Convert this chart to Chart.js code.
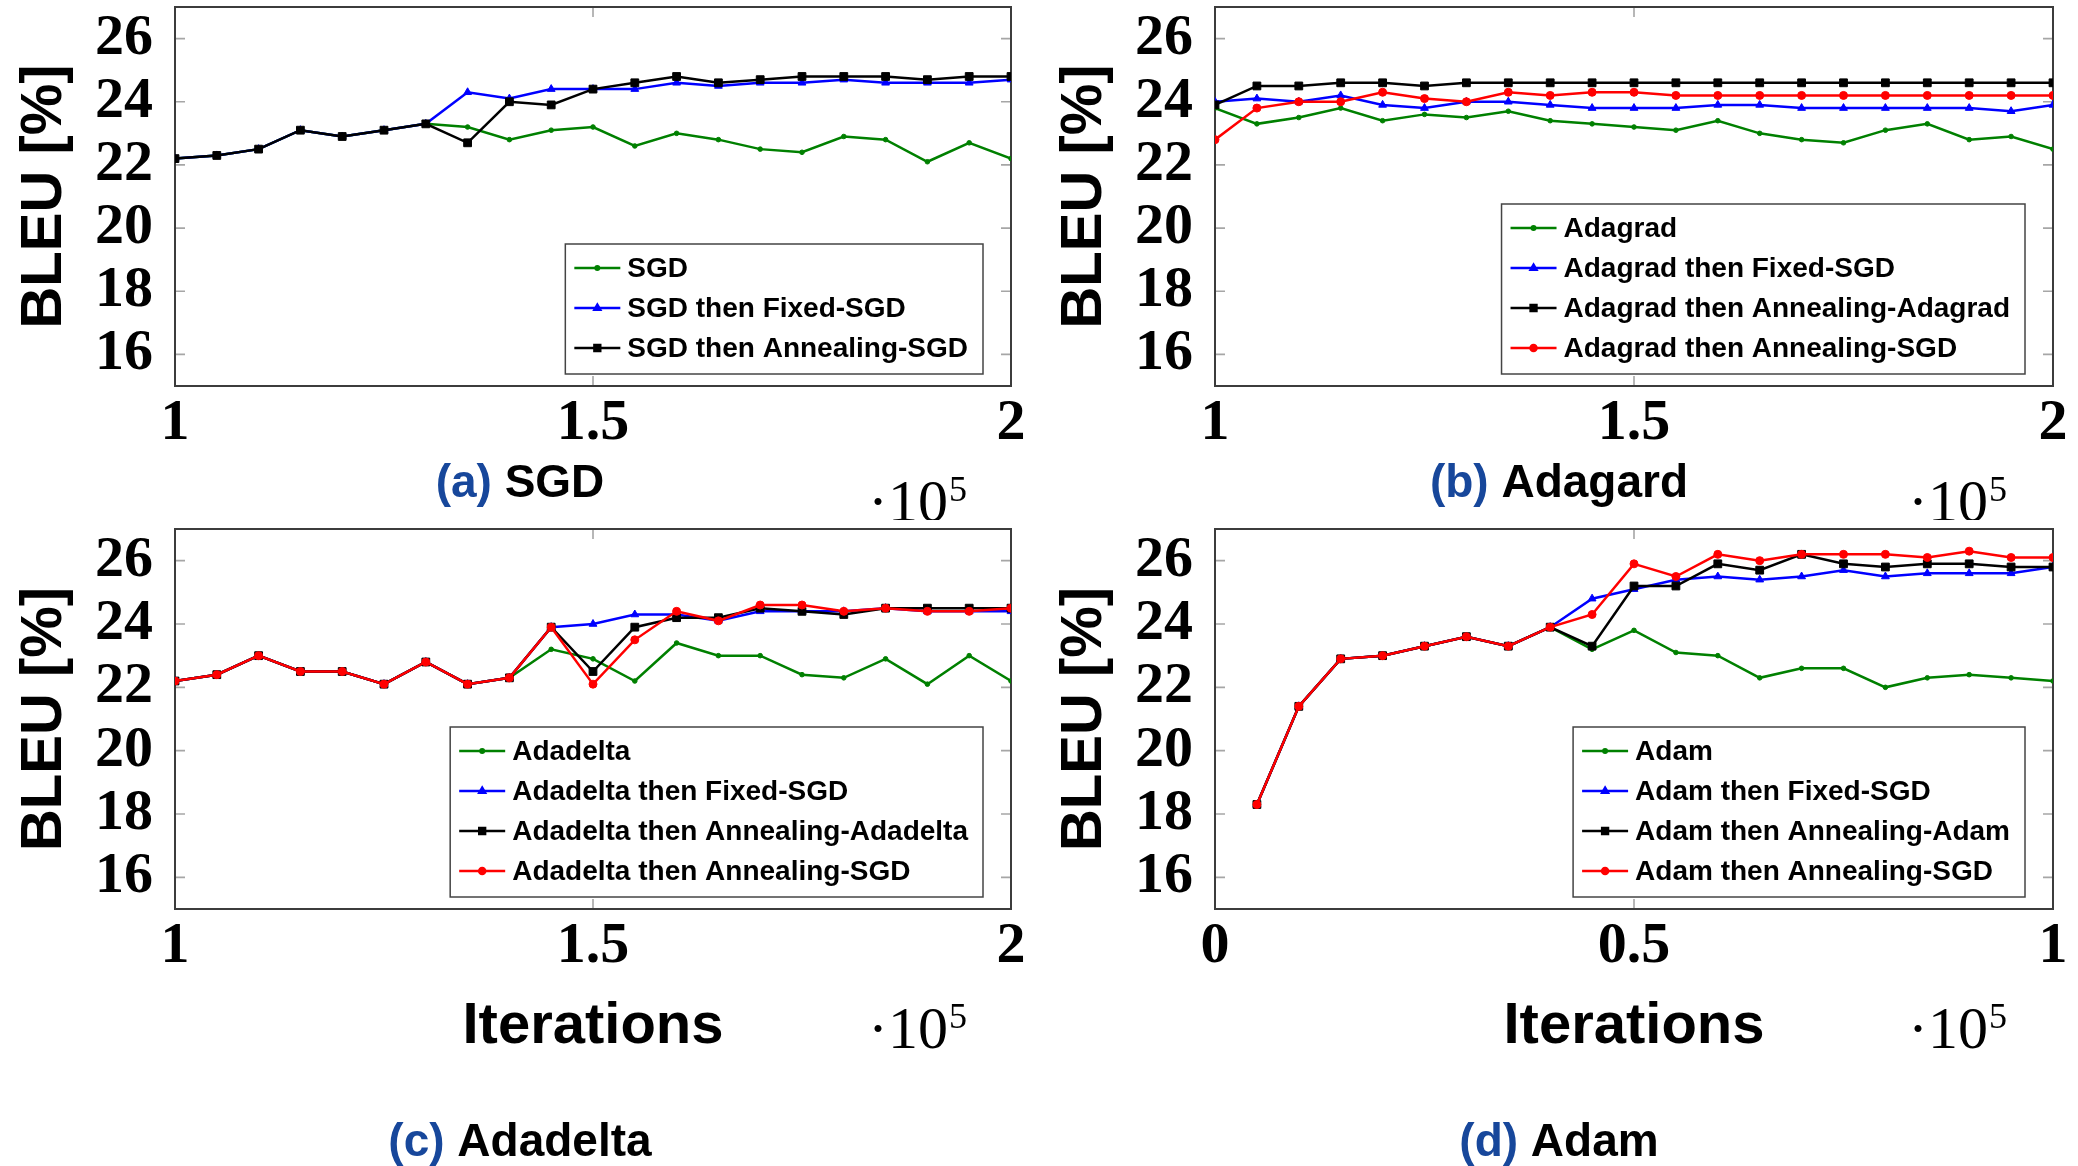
<!DOCTYPE html>
<html>
<head>
<meta charset="utf-8">
<script src="https://cdn.jsdelivr.net/npm/chart.js@4.4.0/dist/chart.umd.min.js"></script>
<style>
  body { margin: 0; background: #fff; width: 2078px; height: 1166px; overflow: hidden; position: relative; }
  canvas { position: absolute; }
</style>
</head>
<body>
<canvas id="chart-a" width="1040" height="520" style="left:0;top:0"></canvas>
<canvas id="chart-b" width="1038" height="520" style="left:1040px;top:0"></canvas>
<canvas id="chart-c" width="1040" height="646" style="left:0;top:520px"></canvas>
<canvas id="chart-d" width="1038" height="646" style="left:1040px;top:520px"></canvas>
<script>
// ---- data (BLEU %, iterations in units of 1e5) ----
const iters = [1.00, 1.05, 1.10, 1.15, 1.20, 1.25, 1.30, 1.35, 1.40, 1.45, 1.50,
               1.55, 1.60, 1.65, 1.70, 1.75, 1.80, 1.85, 1.90, 1.95, 2.00];
const adamIters = [0.05, 0.10, 0.15, 0.20, 0.25, 0.30, 0.35, 0.40, 0.45, 0.50,
                   0.55, 0.60, 0.65, 0.70, 0.75, 0.80, 0.85, 0.90, 0.95, 1.00];

const bleuTicks = [16, 18, 20, 22, 24, 26];
const iterTicks = [1, 1.5, 2];
const adamIterTicks = [0, 0.5, 1];

const sgd          = [22.2, 22.3, 22.5, 23.1, 22.9, 23.1, 23.3, 23.2, 22.8, 23.1, 23.2, 22.6, 23.0, 22.8, 22.5, 22.4, 22.9, 22.8, 22.1, 22.7, 22.2];
const sgdFixed     = [22.2, 22.3, 22.5, 23.1, 22.9, 23.1, 23.3, 24.3, 24.1, 24.4, 24.4, 24.4, 24.6, 24.5, 24.6, 24.6, 24.7, 24.6, 24.6, 24.6, 24.7];
const sgdAnneal    = [22.2, 22.3, 22.5, 23.1, 22.9, 23.1, 23.3, 22.7, 24.0, 23.9, 24.4, 24.6, 24.8, 24.6, 24.7, 24.8, 24.8, 24.8, 24.7, 24.8, 24.8];

const adagrad          = [23.8, 23.3, 23.5, 23.8, 23.4, 23.6, 23.5, 23.7, 23.4, 23.3, 23.2, 23.1, 23.4, 23.0, 22.8, 22.7, 23.1, 23.3, 22.8, 22.9, 22.5];
const adagradFixed     = [24.0, 24.1, 24.0, 24.2, 23.9, 23.8, 24.0, 24.0, 23.9, 23.8, 23.8, 23.8, 23.9, 23.9, 23.8, 23.8, 23.8, 23.8, 23.8, 23.7, 23.9];
const adagradAnnealAda = [23.9, 24.5, 24.5, 24.6, 24.6, 24.5, 24.6, 24.6, 24.6, 24.6, 24.6, 24.6, 24.6, 24.6, 24.6, 24.6, 24.6, 24.6, 24.6, 24.6, 24.6];
const adagradAnnealSgd = [22.8, 23.8, 24.0, 24.0, 24.3, 24.1, 24.0, 24.3, 24.2, 24.3, 24.3, 24.2, 24.2, 24.2, 24.2, 24.2, 24.2, 24.2, 24.2, 24.2, 24.2];

const adadelta          = [22.2, 22.4, 23.0, 22.5, 22.5, 22.1, 22.8, 22.1, 22.3, 23.2, 22.9, 22.2, 23.4, 23.0, 23.0, 22.4, 22.3, 22.9, 22.1, 23.0, 22.2];
const adadeltaFixed     = [22.2, 22.4, 23.0, 22.5, 22.5, 22.1, 22.8, 22.1, 22.3, 23.9, 24.0, 24.3, 24.3, 24.1, 24.4, 24.4, 24.4, 24.5, 24.4, 24.4, 24.4];
const adadeltaAnnealAda = [22.2, 22.4, 23.0, 22.5, 22.5, 22.1, 22.8, 22.1, 22.3, 23.9, 22.5, 23.9, 24.2, 24.2, 24.5, 24.4, 24.3, 24.5, 24.5, 24.5, 24.5];
const adadeltaAnnealSgd = [22.2, 22.4, 23.0, 22.5, 22.5, 22.1, 22.8, 22.1, 22.3, 23.9, 22.1, 23.5, 24.4, 24.1, 24.6, 24.6, 24.4, 24.5, 24.4, 24.4, 24.5];

const adam          = [18.3, 21.4, 22.9, 23.0, 23.3, 23.6, 23.3, 23.9, 23.2, 23.8, 23.1, 23.0, 22.3, 22.6, 22.6, 22.0, 22.3, 22.4, 22.3, 22.2];
const adamFixed     = [18.3, 21.4, 22.9, 23.0, 23.3, 23.6, 23.3, 23.9, 24.8, 25.1, 25.4, 25.5, 25.4, 25.5, 25.7, 25.5, 25.6, 25.6, 25.6, 25.8];
const adamAnnealAda = [18.3, 21.4, 22.9, 23.0, 23.3, 23.6, 23.3, 23.9, 23.3, 25.2, 25.2, 25.9, 25.7, 26.2, 25.9, 25.8, 25.9, 25.9, 25.8, 25.8];
const adamAnnealSgd = [18.3, 21.4, 22.9, 23.0, 23.3, 23.6, 23.3, 23.9, 24.3, 25.9, 25.5, 26.2, 26.0, 26.2, 26.2, 26.2, 26.1, 26.3, 26.1, 26.1];

// ---- styles ----
const SANS = '"Liberation Sans", Arial, sans-serif';
const SERIF = '"Liberation Serif", "Times New Roman", serif';
const lineStyles = [
    { color: '#008000', pointStyle: 'circle', radius: 2.3, order: 3 },
    { color: '#0000ff', pointStyle: 'triangle', radius: 4.5, order: 2 },
    { color: '#000000', pointStyle: 'rect', radius: 5.5, order: 1 },
    { color: '#ff0000', pointStyle: 'circle', radius: 4, order: 0 }
];

const decorPlugin = {
    id: 'decor',
    beforeDatasetsDraw(chart) {
        const { ctx, chartArea: a, scales: { x, y } } = chart;
        ctx.save();
        ctx.strokeStyle = '#a6a6a6';
        ctx.lineWidth = 1.6;
        ctx.beginPath();
        y.ticks.forEach(t => {
            const py = y.getPixelForValue(t.value);
            ctx.moveTo(a.left, py); ctx.lineTo(a.left + 10, py);
            ctx.moveTo(a.right - 10, py); ctx.lineTo(a.right, py);
        });
        x.ticks.forEach(t => {
            const px = x.getPixelForValue(t.value);
            ctx.moveTo(px, a.bottom); ctx.lineTo(px, a.bottom - 10);
            ctx.moveTo(px, a.top); ctx.lineTo(px, a.top + 10);
        });
        ctx.stroke();
        ctx.strokeStyle = '#3c3c3c';
        ctx.lineWidth = 2;
        ctx.strokeRect(a.left, a.top, a.right - a.left, a.bottom - a.top);
        ctx.restore();
    },
    afterDatasetsDraw(chart, args, opts) {
        const { ctx, chartArea: a } = chart;
        const items = chart.data.datasets;
        ctx.save();

        // legend, bottom right inside the plot
        ctx.font = 'bold 28px ' + SANS;
        const textW = Math.max(...items.map(d => ctx.measureText(d.label).width));
        const boxW = 9 + 46 + 7 + textW + 15;
        const boxH = 24 + (items.length - 1) * 40 + 26;
        const bx = a.right - 28 - boxW;
        const by = a.bottom - 12 - boxH;
        ctx.fillStyle = '#fff';
        ctx.fillRect(bx, by, boxW, boxH);
        ctx.strokeStyle = '#444';
        ctx.lineWidth = 1.5;
        ctx.strokeRect(bx, by, boxW, boxH);
        items.forEach((d, i) => {
            const cy = by + 24 + i * 40;
            ctx.strokeStyle = d.borderColor;
            ctx.lineWidth = 2.5;
            ctx.beginPath();
            ctx.moveTo(bx + 9, cy); ctx.lineTo(bx + 55, cy);
            ctx.stroke();
            ctx.fillStyle = d.borderColor;
            Chart.helpers.drawPoint(ctx, { pointStyle: d.pointStyle, radius: d.pointRadius * 0.75, rotation: 0, borderWidth: 1 }, bx + 32, cy);
            ctx.fill();
            ctx.fillStyle = '#000';
            ctx.textBaseline = 'middle';
            ctx.textAlign = 'left';
            ctx.fillText(d.label, bx + 62, cy + 1);
        });

        // multiplier ·10^5
        ctx.fillStyle = '#000';
        ctx.textBaseline = 'alphabetic';
        ctx.font = '60px ' + SERIF;
        const base = '\u00b710';
        ctx.fillText(base, opts.multX, opts.multY);
        const bw = ctx.measureText(base).width;
        ctx.font = '36px ' + SERIF;
        ctx.fillText('5', opts.multX + bw + 1, opts.multY - 20);

        // caption "(a) SGD"
        ctx.font = 'bold 46px ' + SANS;
        const tagW = ctx.measureText(opts.tag + ' ').width;
        const nameW = ctx.measureText(opts.name).width;
        const cx = chart.width / 2 - (tagW + nameW) / 2;
        ctx.fillStyle = '#17479b';
        ctx.fillText(opts.tag, cx, opts.captionY);
        ctx.fillStyle = '#000';
        ctx.fillText(opts.name, cx + tagW, opts.captionY);
        ctx.restore();
    }
};

function makePanel(id, xs, series, labels, xTicks, panel) {
    const canvas = document.getElementById(id);
    const W = canvas.width, H = canvas.height;
    const datasets = series.map((vals, i) => ({
        label: labels[i],
        data: vals.map((v, k) => ({ x: xs[k], y: v })),
        borderColor: lineStyles[i].color,
        backgroundColor: lineStyles[i].color,
        pointBackgroundColor: lineStyles[i].color,
        pointBorderColor: lineStyles[i].color,
        pointStyle: lineStyles[i].pointStyle,
        pointRadius: lineStyles[i].radius,
        pointBorderWidth: 1,
        borderWidth: 2.5,
        tension: 0,
        order: lineStyles[i].order
    }));
    return new Chart(canvas, {
        type: 'line',
        data: { datasets },
        options: {
            responsive: false,
            animation: false,
            devicePixelRatio: 1,
            layout: { padding: { left: 0, top: panel.top, right: W - panel.right, bottom: 0 } },
            plugins: {
                legend: { display: false },
                tooltip: { enabled: false },
                decor: panel.decor
            },
            scales: {
                x: {
                    type: 'linear',
                    min: xTicks[0],
                    max: xTicks[xTicks.length - 1],
                    afterBuildTicks: s => { s.ticks = xTicks.map(v => ({ value: v })); },
                    afterFit: s => {
                        s.height = H - panel.bottom;
                        s.paddingLeft = 0; s.paddingRight = 0;
                    },
                    grid: { display: false, drawTicks: false, tickLength: 0 },
                    border: { display: false },
                    ticks: {
                        color: '#000',
                        padding: 3,
                        maxRotation: 0,
                        autoSkip: false,
                        font: { family: SERIF, size: 58, weight: 'bold' },
                        callback: v => String(v)
                    },
                    title: {
                        display: !!panel.xTitle,
                        text: panel.xTitle || '',
                        color: '#000',
                        font: { family: SANS, size: 58, weight: 'bold' },
                        padding: { top: 0, bottom: panel.xTitlePad || 0 }
                    }
                },
                y: {
                    min: 15,
                    max: 27,
                    afterBuildTicks: s => { s.ticks = bleuTicks.map(v => ({ value: v })); },
                    afterFit: s => {
                        s.width = 175;
                        s.paddingTop = 0; s.paddingBottom = 0;
                    },
                    grid: { display: false, drawTicks: false, tickLength: 0 },
                    border: { display: false },
                    ticks: {
                        color: '#000',
                        padding: 22,
                        autoSkip: false,
                        font: { family: SERIF, size: 58, weight: 'bold' }
                    },
                    title: {
                        display: true,
                        text: 'BLEU [%]',
                        color: '#000',
                        font: { family: SANS, size: 58, weight: 'bold' },
                        padding: { top: 10, bottom: 0 }
                    }
                }
            }
        },
        plugins: [decorPlugin]
    });
}

makePanel('chart-a', iters, [sgd, sgdFixed, sgdAnneal],
    ['SGD', 'SGD then Fixed-SGD', 'SGD then Annealing-SGD'], iterTicks,
    { top: 7, bottom: 386, right: 1011,
      decor: { tag: '(a)', name: 'SGD', captionY: 497, multX: 868, multY: 521 } });

makePanel('chart-b', iters, [adagrad, adagradFixed, adagradAnnealAda, adagradAnnealSgd],
    ['Adagrad', 'Adagrad then Fixed-SGD', 'Adagrad then Annealing-Adagrad', 'Adagrad then Annealing-SGD'], iterTicks,
    { top: 7, bottom: 386, right: 1013,
      decor: { tag: '(b)', name: 'Adagard', captionY: 497, multX: 868, multY: 521 } });

makePanel('chart-c', iters, [adadelta, adadeltaFixed, adadeltaAnnealAda, adadeltaAnnealSgd],
    ['Adadelta', 'Adadelta then Fixed-SGD', 'Adadelta then Annealing-Adadelta', 'Adadelta then Annealing-SGD'], iterTicks,
    { top: 9, bottom: 389, right: 1011, xTitle: 'Iterations', xTitlePad: 104,
      decor: { tag: '(c)', name: 'Adadelta', captionY: 636, multX: 868, multY: 528 } });

makePanel('chart-d', adamIters, [adam, adamFixed, adamAnnealAda, adamAnnealSgd],
    ['Adam', 'Adam then Fixed-SGD', 'Adam then Annealing-Adam', 'Adam then Annealing-SGD'], adamIterTicks,
    { top: 9, bottom: 389, right: 1013, xTitle: 'Iterations', xTitlePad: 104,
      decor: { tag: '(d)', name: 'Adam', captionY: 636, multX: 868, multY: 528 } });
</script>
</body>
</html>
